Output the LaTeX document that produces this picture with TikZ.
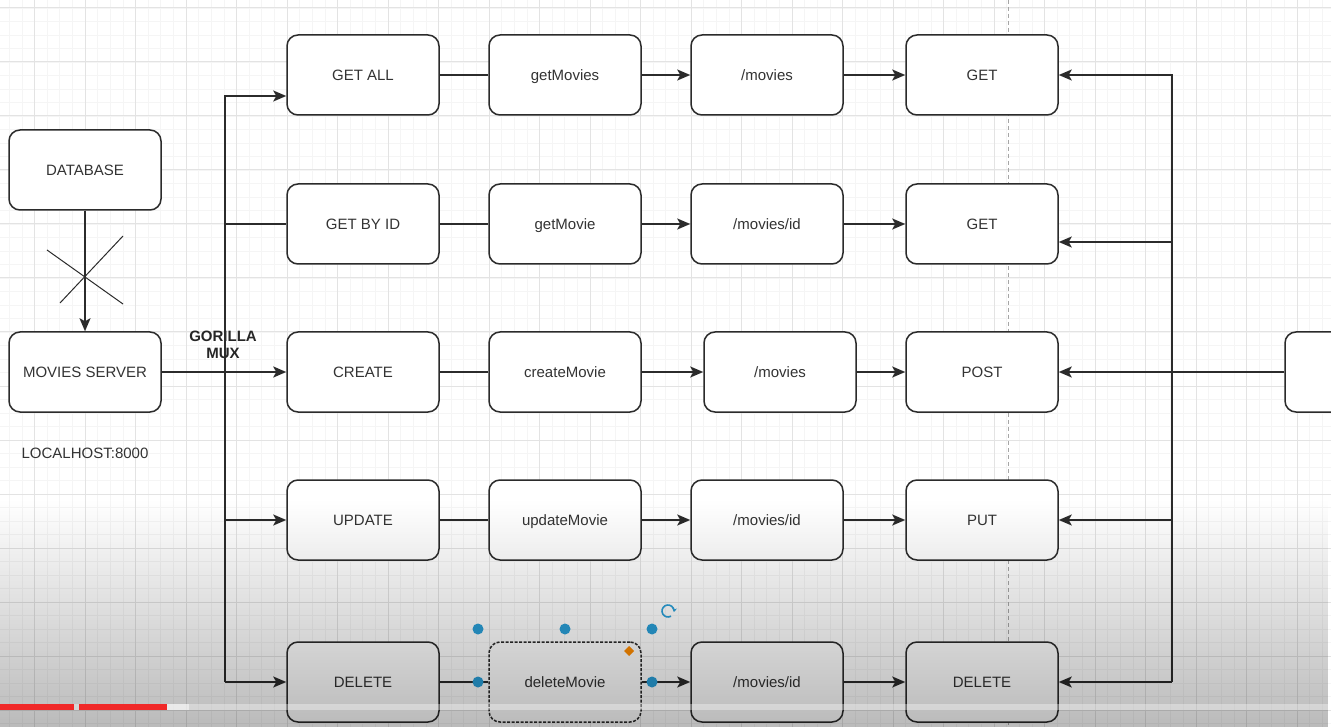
\documentclass[tikz,border=0pt]{standalone}
\usepackage{fontspec}
\setmainfont{Liberation Sans}
\usetikzlibrary{arrows.meta,fadings}
\tikzfading[name=fadedown, top color=transparent!100, bottom color=transparent!0]
\definecolor{txt}{HTML}{333333}
\definecolor{edge}{HTML}{2B2B2B}
\definecolor{handle}{HTML}{2A9FD8}
\definecolor{ytred}{HTML}{F02828}
\tikzset{
  box/.style={draw=edge, fill=white, line width=1.5pt, rounded corners=11pt,
    minimum width=152pt, minimum height=80pt, text=txt,
    font=\fontsize{15}{18}\selectfont, inner sep=0pt,
    text height=11pt, text depth=0pt},
  conn/.style={draw=edge, line width=1.5pt},
  arr/.style={conn, -{Stealth[length=13pt,width=11pt,inset=3pt]}},
  gridminor/.style={draw=black!4, line width=0.6pt},
  gridmajor/.style={draw=black!11, line width=1pt},
  lbl/.style={text=txt, font=\fontsize{15}{18}\selectfont, inner sep=0pt},
  hdl/.style={fill=handle, draw=none},
}
\begin{document}
\begin{tikzpicture}[x=1pt,y=-1pt]
\useasboundingbox (0,0) rectangle (1331,727);
\begin{scope}
\clip (0,0) rectangle (1331,727);
\fill[white] (0,0) rectangle (1331,727);
% grid
\foreach \i in {-3,...,106} {\draw[gridminor] ({34.5+12.625*\i},0) -- ++(0,727);}
\foreach \j in {-1,...,54} {\draw[gridminor] (0,{8+13.5*\j}) -- ++(1331,0);}
\foreach \i in {0,...,26} {\draw[gridmajor] ({34.5+50.5*\i},0) -- ++(0,727);}
\foreach \j in {0,...,13} {\draw[gridmajor] (0,{8+54*\j}) -- ++(1331,0);}
% page break line
\draw[black!35, line width=0.8pt, dash pattern=on 4pt off 3pt] (1008,0) -- (1008,727);

% left nodes
\node[box] (db) at (85,170) {DATABASE};
\node[box] (srv) at (85,372) {MOVIES SERVER};
\node[lbl] (host) at (85,453) {LOCALHOST:8000};

% column nodes
\node[box] (getall) at (363,75) {GET ALL};
\node[box] (getid) at (363,224) {GET BY ID};
\node[box] (create) at (363,372) {CREATE};
\node[box] (update) at (363,520) {UPDATE};
\node[box] (delete) at (363,682) {DELETE};

\node[box] (fgetmovies) at (565,75) {getMovies};
\node[box] (fgetmovie) at (565,224) {getMovie};
\node[box] (fcreate) at (565,372) {createMovie};
\node[box] (fupdate) at (565,520) {updateMovie};
\node[box, dash pattern=on 3pt off 1.5pt] (fdelete) at (565,682) {deleteMovie};

\node[box] (p1) at (767,75) {/movies};
\node[box] (p2) at (767,224) {/movies/id};
\node[box] (p3) at (780,372) {/movies};
\node[box] (p4) at (767,520) {/movies/id};
\node[box] (p5) at (767,682) {/movies/id};

\node[box] (m1) at (982,75) {GET};
\node[box] (m2) at (982,224) {GET};
\node[box] (m3) at (982,372) {POST};
\node[box] (m4) at (982,520) {PUT};
\node[box] (m5) at (982,682) {DELETE};

\node[box] (rbox) at (1361,372) {};

% database to server, crossed out
\draw[arr] (db.south) -- (srv.north);
\draw[conn, line width=1pt] (47,250) -- (123,304);
\draw[conn, line width=1pt] (60,303) -- (123,236);

% gorilla mux
\node[lbl, font=\bfseries\fontsize{15}{18}\selectfont, align=center, text=black!85] (mux) at (223,345) {GORILLA\\[-1pt]MUX};

% trunk
\coordinate (t1) at (225,96);
\coordinate (t2) at (225,224);
\coordinate (t4) at (225,520);
\coordinate (t5) at (225,682);
\draw[arr] (t5) -- (t1) -- (t1 -| getall.west);
\draw[conn] (t2) -- (getid.west);
\draw[arr, line width=2pt] (srv.east) -- (create.west);
\draw[arr] (t4) -- (update.west);
\draw[arr] (t5) -- (delete.west);

% rows
\draw[conn] (getall) -- (fgetmovies);
\draw[arr] (fgetmovies) -- (p1);
\draw[arr] (p1) -- (m1);
\draw[conn] (getid) -- (fgetmovie);
\draw[arr] (fgetmovie) -- (p2);
\draw[arr] (p2) -- (m2);
\draw[conn] (create) -- (fcreate);
\draw[arr] (fcreate) -- (p3);
\draw[arr] (p3) -- (m3);
\draw[conn] (update) -- (fupdate);
\draw[arr] (fupdate) -- (p4);
\draw[arr] (p4) -- (m4);
\draw[conn] (delete) -- (fdelete);
\draw[arr] (fdelete) -- (p5);
\draw[arr] (p5) -- (m5);

% right trunk
\coordinate (r1) at (1172,75);
\coordinate (r2) at (1172,242);
\coordinate (r4) at (1172,520);
\coordinate (r5) at (1172,682);
\draw[arr] (r5) -- (r1) -- (m1.east);
\draw[arr] (r2) -- (r2 -| m2.east);
\draw[arr, line width=2pt] (rbox.west) -- (m3.east);
\draw[arr] (r4) -- (m4.east);
\draw[arr] (r5) -- (m5.east);

% selection handles
\foreach \p in {(478,629),(565,629),(652,629),(478,682),(652,682)} {\fill[hdl] \p circle (5.5);}
\fill[orange!90!yellow] (629,646) -- (634,651) -- (629,656) -- (624,651) -- cycle;
\draw[handle, line width=1.6pt, -{Stealth[length=4pt,width=5pt]}] (668,611) ++(60:6) arc (60:370:6);

% video overlay
\fill[black, opacity=0.27, path fading=fadedown, fit fading=true] (0,500) rectangle (1331,727);
\fill[white, opacity=0.35] (0,704) rectangle (1331,710);
\fill[white, opacity=0.5] (167,704) rectangle (189,710);
\fill[ytred] (0,704) rectangle (74,710);
\fill[ytred] (79,704) rectangle (167,710);
\end{scope}
\end{tikzpicture}
\end{document}
